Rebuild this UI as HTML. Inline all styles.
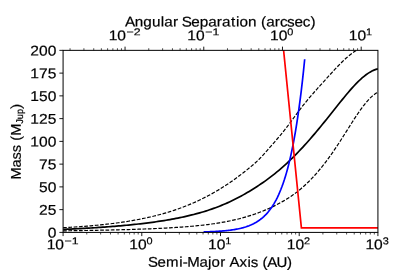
<!DOCTYPE html>
<html><head><meta charset="utf-8"><title>Mass vs Semi-Major Axis</title>
<style>
html,body{margin:0;padding:0;background:#fff;}
body{width:420px;height:280px;overflow:hidden;}
text{stroke:#000;stroke-width:0.2px;}
svg{display:block;will-change:transform;text-rendering:geometricPrecision;font-family:"Liberation Sans",sans-serif;fill:#000;}
</style></head><body>
<svg width="420" height="280" viewBox="0 0 420 280">
<defs><clipPath id="ax"><rect x="63.08" y="50.35" width="314.84" height="182.05"/></clipPath></defs>
<rect width="420" height="280" fill="#fff"/>
<g clip-path="url(#ax)">
<path d="M63.08,229.39 L65.06,229.31 L67.04,229.22 L69.02,229.13 L71.00,229.04 L72.98,228.94 L74.96,228.84 L76.94,228.74 L78.92,228.64 L80.90,228.54 L82.88,228.43 L84.86,228.32 L86.84,228.21 L88.82,228.09 L90.80,227.98 L92.78,227.85 L94.76,227.73 L96.74,227.60 L98.72,227.47 L100.70,227.34 L102.68,227.20 L104.66,227.06 L106.64,226.92 L108.62,226.77 L110.60,226.62 L112.58,226.46 L114.56,226.30 L116.54,226.14 L118.52,225.97 L120.50,225.80 L122.48,225.62 L124.46,225.44 L126.44,225.25 L128.42,225.06 L130.40,224.86 L132.38,224.66 L134.36,224.45 L136.34,224.24 L138.32,224.02 L140.30,223.80 L142.29,223.57 L144.27,223.33 L146.25,223.08 L148.23,222.83 L150.21,222.57 L152.19,222.31 L154.17,222.04 L156.15,221.75 L158.13,221.46 L160.11,221.17 L162.09,220.86 L164.07,220.54 L166.05,220.22 L168.03,219.88 L170.01,219.54 L171.99,219.18 L173.97,218.82 L175.95,218.44 L177.93,218.05 L179.91,217.65 L181.89,217.23 L183.87,216.81 L185.85,216.37 L187.83,215.91 L189.81,215.44 L191.79,214.95 L193.77,214.45 L195.75,213.94 L197.73,213.40 L199.71,212.85 L201.69,212.28 L203.67,211.69 L205.65,211.08 L207.63,210.44 L209.61,209.79 L211.59,209.12 L213.57,208.42 L215.55,207.70 L217.53,206.95 L219.51,206.18 L221.49,205.39 L223.47,204.57 L225.45,203.73 L227.43,202.85 L229.41,201.96 L231.39,201.03 L233.37,200.08 L235.35,199.09 L237.33,198.08 L239.31,197.04 L241.29,195.97 L243.27,194.87 L245.25,193.74 L247.23,192.58 L249.21,191.40 L251.19,190.19 L253.17,188.96 L255.15,187.71 L257.13,186.43 L259.11,185.14 L261.09,183.81 L263.07,182.46 L265.05,181.08 L267.03,179.65 L269.01,178.19 L270.99,176.69 L272.97,175.15 L274.95,173.57 L276.93,171.96 L278.91,170.30 L280.89,168.60 L282.87,166.86 L284.85,165.08 L286.83,163.27 L288.81,161.41 L290.79,159.51 L292.77,157.57 L294.75,155.60 L296.73,153.58 L298.71,151.53 L300.70,149.44 L302.68,147.32 L304.66,145.15 L306.64,142.96 L308.62,140.73 L310.60,138.47 L312.58,136.18 L314.56,133.86 L316.54,131.52 L318.52,129.14 L320.50,126.75 L322.48,124.33 L324.46,121.90 L326.44,119.45 L328.42,116.98 L330.40,114.51 L332.38,112.02 L334.36,109.54 L336.34,107.05 L338.32,104.56 L340.30,102.08 L342.28,99.63 L344.26,97.20 L346.24,94.80 L348.22,92.45 L350.20,90.15 L352.18,87.91 L354.16,85.74 L356.14,83.65 L358.12,81.65 L360.10,79.76 L362.08,77.97 L364.06,76.30 L366.04,74.77 L368.02,73.38 L370.00,72.14 L371.98,71.06 L373.96,70.15 L375.94,69.42 L377.92,68.87" fill="none" stroke="#000" stroke-width="1.7" stroke-linejoin="miter"/>
<path d="M63.08,227.72 L65.06,227.61 L67.04,227.50 L69.02,227.38 L71.00,227.26 L72.98,227.14 L74.96,227.01 L76.94,226.87 L78.92,226.73 L80.90,226.59 L82.88,226.44 L84.86,226.29 L86.84,226.13 L88.82,225.97 L90.80,225.80 L92.78,225.62 L94.76,225.44 L96.74,225.25 L98.72,225.06 L100.70,224.86 L102.68,224.65 L104.66,224.43 L106.64,224.21 L108.62,223.98 L110.60,223.75 L112.58,223.50 L114.56,223.25 L116.54,222.99 L118.52,222.72 L120.50,222.44 L122.48,222.15 L124.46,221.85 L126.44,221.54 L128.42,221.22 L130.40,220.90 L132.38,220.56 L134.36,220.21 L136.34,219.85 L138.32,219.47 L140.30,219.09 L142.29,218.69 L144.27,218.28 L146.25,217.86 L148.23,217.42 L150.21,216.97 L152.19,216.50 L154.17,216.02 L156.15,215.53 L158.13,215.02 L160.11,214.49 L162.09,213.95 L164.07,213.39 L166.05,212.82 L168.03,212.22 L170.01,211.61 L171.99,210.98 L173.97,210.33 L175.95,209.67 L177.93,208.98 L179.91,208.27 L181.89,207.55 L183.87,206.80 L185.85,206.03 L187.83,205.24 L189.81,204.42 L191.79,203.59 L193.77,202.73 L195.75,201.85 L197.73,200.94 L199.71,200.01 L201.69,199.05 L203.67,198.07 L205.65,197.07 L207.63,196.04 L209.61,194.98 L211.59,193.90 L213.57,192.79 L215.55,191.65 L217.53,190.48 L219.51,189.29 L221.49,188.07 L223.47,186.82 L225.45,185.54 L227.43,184.24 L229.41,182.90 L231.39,181.54 L233.37,180.15 L235.35,178.73 L237.33,177.28 L239.31,175.80 L241.29,174.30 L243.27,172.77 L245.25,171.21 L247.23,169.62 L249.21,168.01 L251.19,166.37 L253.17,164.69 L255.15,162.95 L257.13,161.14 L259.11,159.22 L261.09,157.19 L263.07,155.06 L265.05,152.87 L267.03,150.62 L269.01,148.35 L270.99,146.08 L272.97,143.81 L274.95,141.54 L276.93,139.26 L278.91,136.95 L280.89,134.60 L282.87,132.19 L284.85,129.71 L286.83,127.16 L288.81,124.55 L290.79,121.89 L292.77,119.21 L294.75,116.51 L296.73,113.82 L298.71,111.15 L300.70,108.54 L302.68,105.98 L304.66,103.48 L306.64,101.04 L308.62,98.65 L310.60,96.31 L312.58,94.02 L314.56,91.76 L316.54,89.53 L318.52,87.32 L320.50,85.14 L322.48,82.96 L324.46,80.78 L326.44,78.60 L328.42,76.41 L330.40,74.23 L332.38,72.06 L334.36,69.92 L336.34,67.81 L338.32,65.74 L340.30,63.72 L342.28,61.76 L344.26,59.87 L346.24,58.06 L348.22,56.34 L350.20,54.73 L352.18,53.22 L354.16,51.84 L356.14,50.59 L358.12,49.49 L360.10,48.54 L362.08,47.76 L364.06,47.15 L366.04,46.73 L368.02,46.51 L370.00,46.48 L371.98,46.67 L373.96,47.08 L375.94,47.72 L377.92,48.58" fill="none" stroke="#000" stroke-width="1.2" stroke-dasharray="3.7,1.6" stroke-linejoin="miter"/>
<path d="M63.08,230.86 L65.06,230.83 L67.04,230.80 L69.02,230.77 L71.00,230.74 L72.98,230.71 L74.96,230.68 L76.94,230.65 L78.92,230.61 L80.90,230.58 L82.88,230.55 L84.86,230.51 L86.84,230.48 L88.82,230.44 L90.80,230.41 L92.78,230.37 L94.76,230.33 L96.74,230.29 L98.72,230.25 L100.70,230.21 L102.68,230.17 L104.66,230.13 L106.64,230.09 L108.62,230.04 L110.60,230.00 L112.58,229.95 L114.56,229.90 L116.54,229.86 L118.52,229.81 L120.50,229.75 L122.48,229.70 L124.46,229.65 L126.44,229.59 L128.42,229.53 L130.40,229.48 L132.38,229.41 L134.36,229.35 L136.34,229.29 L138.32,229.22 L140.30,229.15 L142.29,229.08 L144.27,229.01 L146.25,228.94 L148.23,228.86 L150.21,228.78 L152.19,228.70 L154.17,228.61 L156.15,228.52 L158.13,228.43 L160.11,228.34 L162.09,228.24 L164.07,228.14 L166.05,228.03 L168.03,227.92 L170.01,227.81 L171.99,227.69 L173.97,227.57 L175.95,227.45 L177.93,227.32 L179.91,227.18 L181.89,227.04 L183.87,226.89 L185.85,226.74 L187.83,226.58 L189.81,226.41 L191.79,226.24 L193.77,226.06 L195.75,225.87 L197.73,225.67 L199.71,225.46 L201.69,225.25 L203.67,225.03 L205.65,224.79 L207.63,224.55 L209.61,224.29 L211.59,224.02 L213.57,223.74 L215.55,223.45 L217.53,223.14 L219.51,222.82 L221.49,222.49 L223.47,222.14 L225.45,221.77 L227.43,221.39 L229.41,220.99 L231.39,220.57 L233.37,220.14 L235.35,219.68 L237.33,219.21 L239.31,218.72 L241.29,218.20 L243.27,217.67 L245.25,217.11 L247.23,216.53 L249.21,215.93 L251.19,215.30 L253.17,214.64 L255.15,213.97 L257.13,213.26 L259.11,212.53 L261.09,211.77 L263.07,210.98 L265.05,210.16 L267.03,209.32 L269.01,208.44 L270.99,207.53 L272.97,206.60 L274.95,205.62 L276.93,204.62 L278.91,203.57 L280.89,202.49 L282.87,201.36 L284.85,200.20 L286.83,198.98 L288.81,197.72 L290.79,196.40 L292.77,195.03 L294.75,193.61 L296.73,192.12 L298.71,190.56 L300.70,188.93 L302.68,187.24 L304.66,185.47 L306.64,183.63 L308.62,181.71 L310.60,179.72 L312.58,177.65 L314.56,175.50 L316.54,173.28 L318.52,170.98 L320.50,168.60 L322.48,166.15 L324.46,163.62 L326.44,161.02 L328.42,158.34 L330.40,155.60 L332.38,152.79 L334.36,149.92 L336.34,146.98 L338.32,144.00 L340.30,140.96 L342.28,137.88 L344.26,134.77 L346.24,131.64 L348.22,128.50 L350.20,125.37 L352.18,122.26 L354.16,119.18 L356.14,116.16 L358.12,113.22 L360.10,110.37 L362.08,107.63 L364.06,105.02 L366.04,102.57 L368.02,100.29 L370.00,98.20 L371.98,96.33 L373.96,94.69 L375.94,93.31 L377.92,92.20" fill="none" stroke="#000" stroke-width="1.2" stroke-dasharray="3.7,1.6" stroke-linejoin="miter"/>
<path d="M203.60,231.93 L204.74,231.90 L205.88,231.87 L207.01,231.83 L208.15,231.79 L209.28,231.75 L210.42,231.70 L211.55,231.66 L212.69,231.60 L213.83,231.55 L214.96,231.49 L216.10,231.43 L217.23,231.36 L218.37,231.29 L219.51,231.21 L220.64,231.13 L221.78,231.05 L222.91,230.95 L224.05,230.85 L225.18,230.75 L226.32,230.63 L227.46,230.51 L228.59,230.38 L229.73,230.24 L230.86,230.10 L232.00,229.94 L233.14,229.77 L234.27,229.59 L235.41,229.40 L236.54,229.19 L237.68,228.97 L238.81,228.73 L239.95,228.48 L241.09,228.21 L242.22,227.92 L243.36,227.62 L244.49,227.29 L245.63,226.94 L246.77,226.56 L247.90,226.16 L249.04,225.73 L250.17,225.27 L251.31,224.78 L252.44,224.26 L253.58,223.70 L254.72,223.10 L255.85,222.46 L256.99,221.78 L258.12,221.05 L259.26,220.27 L260.40,219.43 L261.53,218.54 L262.67,217.59 L263.80,216.57 L264.94,215.49 L266.07,214.32 L267.21,213.08 L268.35,211.76 L269.48,210.34 L270.62,208.82 L271.75,207.20 L272.89,205.47 L274.03,203.62 L275.16,201.64 L276.30,199.53 L277.43,197.27 L278.57,194.85 L279.70,192.27 L280.84,189.52 L281.98,186.57 L283.11,183.42 L284.25,180.06 L285.38,176.46 L286.52,172.62 L287.66,168.51 L288.79,164.12 L289.93,159.42 L291.06,154.41 L292.20,149.05 L293.34,143.32 L294.47,137.20 L295.61,130.66 L296.74,123.67 L297.88,116.20 L299.01,108.22 L300.15,99.68 L301.29,90.56 L302.42,80.82 L303.56,70.40 L304.69,59.27" fill="none" stroke="#0000ff" stroke-width="1.7" stroke-linejoin="miter"/>
<path d="M280.59,20.30 L301.40,227.90 L380.00,227.90" fill="none" stroke="#ff0000" stroke-width="1.7" stroke-linejoin="miter"/>
</g>
<rect x="63.08" y="50.35" width="314.84" height="182.05" fill="none" stroke="#000" stroke-width="1.0"/>
<line x1="63.08" y1="232.40" x2="63.08" y2="236.10" stroke="#000" stroke-width="0.9"/>
<line x1="86.77" y1="232.40" x2="86.77" y2="234.50" stroke="#000" stroke-width="0.7"/>
<line x1="100.63" y1="232.40" x2="100.63" y2="234.50" stroke="#000" stroke-width="0.7"/>
<line x1="110.47" y1="232.40" x2="110.47" y2="234.50" stroke="#000" stroke-width="0.7"/>
<line x1="118.10" y1="232.40" x2="118.10" y2="234.50" stroke="#000" stroke-width="0.7"/>
<line x1="124.33" y1="232.40" x2="124.33" y2="234.50" stroke="#000" stroke-width="0.7"/>
<line x1="129.60" y1="232.40" x2="129.60" y2="234.50" stroke="#000" stroke-width="0.7"/>
<line x1="134.16" y1="232.40" x2="134.16" y2="234.50" stroke="#000" stroke-width="0.7"/>
<line x1="138.19" y1="232.40" x2="138.19" y2="234.50" stroke="#000" stroke-width="0.7"/>
<line x1="141.79" y1="232.40" x2="141.79" y2="236.10" stroke="#000" stroke-width="0.9"/>
<line x1="165.48" y1="232.40" x2="165.48" y2="234.50" stroke="#000" stroke-width="0.7"/>
<line x1="179.34" y1="232.40" x2="179.34" y2="234.50" stroke="#000" stroke-width="0.7"/>
<line x1="189.18" y1="232.40" x2="189.18" y2="234.50" stroke="#000" stroke-width="0.7"/>
<line x1="196.81" y1="232.40" x2="196.81" y2="234.50" stroke="#000" stroke-width="0.7"/>
<line x1="203.04" y1="232.40" x2="203.04" y2="234.50" stroke="#000" stroke-width="0.7"/>
<line x1="208.31" y1="232.40" x2="208.31" y2="234.50" stroke="#000" stroke-width="0.7"/>
<line x1="212.87" y1="232.40" x2="212.87" y2="234.50" stroke="#000" stroke-width="0.7"/>
<line x1="216.90" y1="232.40" x2="216.90" y2="234.50" stroke="#000" stroke-width="0.7"/>
<line x1="220.50" y1="232.40" x2="220.50" y2="236.10" stroke="#000" stroke-width="0.9"/>
<line x1="244.19" y1="232.40" x2="244.19" y2="234.50" stroke="#000" stroke-width="0.7"/>
<line x1="258.05" y1="232.40" x2="258.05" y2="234.50" stroke="#000" stroke-width="0.7"/>
<line x1="267.89" y1="232.40" x2="267.89" y2="234.50" stroke="#000" stroke-width="0.7"/>
<line x1="275.52" y1="232.40" x2="275.52" y2="234.50" stroke="#000" stroke-width="0.7"/>
<line x1="281.75" y1="232.40" x2="281.75" y2="234.50" stroke="#000" stroke-width="0.7"/>
<line x1="287.02" y1="232.40" x2="287.02" y2="234.50" stroke="#000" stroke-width="0.7"/>
<line x1="291.58" y1="232.40" x2="291.58" y2="234.50" stroke="#000" stroke-width="0.7"/>
<line x1="295.61" y1="232.40" x2="295.61" y2="234.50" stroke="#000" stroke-width="0.7"/>
<line x1="299.21" y1="232.40" x2="299.21" y2="236.10" stroke="#000" stroke-width="0.9"/>
<line x1="322.90" y1="232.40" x2="322.90" y2="234.50" stroke="#000" stroke-width="0.7"/>
<line x1="336.76" y1="232.40" x2="336.76" y2="234.50" stroke="#000" stroke-width="0.7"/>
<line x1="346.60" y1="232.40" x2="346.60" y2="234.50" stroke="#000" stroke-width="0.7"/>
<line x1="354.23" y1="232.40" x2="354.23" y2="234.50" stroke="#000" stroke-width="0.7"/>
<line x1="360.46" y1="232.40" x2="360.46" y2="234.50" stroke="#000" stroke-width="0.7"/>
<line x1="365.73" y1="232.40" x2="365.73" y2="234.50" stroke="#000" stroke-width="0.7"/>
<line x1="370.29" y1="232.40" x2="370.29" y2="234.50" stroke="#000" stroke-width="0.7"/>
<line x1="374.32" y1="232.40" x2="374.32" y2="234.50" stroke="#000" stroke-width="0.7"/>
<line x1="377.92" y1="232.40" x2="377.92" y2="236.10" stroke="#000" stroke-width="0.9"/>
<line x1="70.05" y1="50.35" x2="70.05" y2="48.25" stroke="#000" stroke-width="0.7"/>
<line x1="83.91" y1="50.35" x2="83.91" y2="48.25" stroke="#000" stroke-width="0.7"/>
<line x1="93.74" y1="50.35" x2="93.74" y2="48.25" stroke="#000" stroke-width="0.7"/>
<line x1="101.37" y1="50.35" x2="101.37" y2="48.25" stroke="#000" stroke-width="0.7"/>
<line x1="107.60" y1="50.35" x2="107.60" y2="48.25" stroke="#000" stroke-width="0.7"/>
<line x1="112.87" y1="50.35" x2="112.87" y2="48.25" stroke="#000" stroke-width="0.7"/>
<line x1="117.43" y1="50.35" x2="117.43" y2="48.25" stroke="#000" stroke-width="0.7"/>
<line x1="121.46" y1="50.35" x2="121.46" y2="48.25" stroke="#000" stroke-width="0.7"/>
<line x1="125.06" y1="50.35" x2="125.06" y2="46.65" stroke="#000" stroke-width="0.9"/>
<line x1="148.76" y1="50.35" x2="148.76" y2="48.25" stroke="#000" stroke-width="0.7"/>
<line x1="162.62" y1="50.35" x2="162.62" y2="48.25" stroke="#000" stroke-width="0.7"/>
<line x1="172.45" y1="50.35" x2="172.45" y2="48.25" stroke="#000" stroke-width="0.7"/>
<line x1="180.08" y1="50.35" x2="180.08" y2="48.25" stroke="#000" stroke-width="0.7"/>
<line x1="186.31" y1="50.35" x2="186.31" y2="48.25" stroke="#000" stroke-width="0.7"/>
<line x1="191.58" y1="50.35" x2="191.58" y2="48.25" stroke="#000" stroke-width="0.7"/>
<line x1="196.14" y1="50.35" x2="196.14" y2="48.25" stroke="#000" stroke-width="0.7"/>
<line x1="200.17" y1="50.35" x2="200.17" y2="48.25" stroke="#000" stroke-width="0.7"/>
<line x1="203.77" y1="50.35" x2="203.77" y2="46.65" stroke="#000" stroke-width="0.9"/>
<line x1="227.47" y1="50.35" x2="227.47" y2="48.25" stroke="#000" stroke-width="0.7"/>
<line x1="241.33" y1="50.35" x2="241.33" y2="48.25" stroke="#000" stroke-width="0.7"/>
<line x1="251.16" y1="50.35" x2="251.16" y2="48.25" stroke="#000" stroke-width="0.7"/>
<line x1="258.79" y1="50.35" x2="258.79" y2="48.25" stroke="#000" stroke-width="0.7"/>
<line x1="265.02" y1="50.35" x2="265.02" y2="48.25" stroke="#000" stroke-width="0.7"/>
<line x1="270.29" y1="50.35" x2="270.29" y2="48.25" stroke="#000" stroke-width="0.7"/>
<line x1="274.85" y1="50.35" x2="274.85" y2="48.25" stroke="#000" stroke-width="0.7"/>
<line x1="278.88" y1="50.35" x2="278.88" y2="48.25" stroke="#000" stroke-width="0.7"/>
<line x1="282.48" y1="50.35" x2="282.48" y2="46.65" stroke="#000" stroke-width="0.9"/>
<line x1="306.18" y1="50.35" x2="306.18" y2="48.25" stroke="#000" stroke-width="0.7"/>
<line x1="320.04" y1="50.35" x2="320.04" y2="48.25" stroke="#000" stroke-width="0.7"/>
<line x1="329.87" y1="50.35" x2="329.87" y2="48.25" stroke="#000" stroke-width="0.7"/>
<line x1="337.50" y1="50.35" x2="337.50" y2="48.25" stroke="#000" stroke-width="0.7"/>
<line x1="343.73" y1="50.35" x2="343.73" y2="48.25" stroke="#000" stroke-width="0.7"/>
<line x1="349.00" y1="50.35" x2="349.00" y2="48.25" stroke="#000" stroke-width="0.7"/>
<line x1="353.56" y1="50.35" x2="353.56" y2="48.25" stroke="#000" stroke-width="0.7"/>
<line x1="357.59" y1="50.35" x2="357.59" y2="48.25" stroke="#000" stroke-width="0.7"/>
<line x1="361.19" y1="50.35" x2="361.19" y2="46.65" stroke="#000" stroke-width="0.9"/>
<line x1="63.08" y1="232.40" x2="59.38" y2="232.40" stroke="#000" stroke-width="0.9"/>
<text transform="translate(47.68,237.52) scale(1.1042,1) rotate(0.03)" x="0.00" y="0" font-size="14.10">0</text>
<line x1="63.08" y1="209.64" x2="59.38" y2="209.64" stroke="#000" stroke-width="0.9"/>
<text transform="translate(39.02,214.76) scale(1.1042,1) rotate(0.03)" x="0.00 7.84" y="0" font-size="14.10">25</text>
<line x1="63.08" y1="186.89" x2="59.38" y2="186.89" stroke="#000" stroke-width="0.9"/>
<text transform="translate(39.02,192.01) scale(1.1042,1) rotate(0.03)" x="0.00 7.84" y="0" font-size="14.10">50</text>
<line x1="63.08" y1="164.13" x2="59.38" y2="164.13" stroke="#000" stroke-width="0.9"/>
<text transform="translate(39.02,169.25) scale(1.1042,1) rotate(0.03)" x="0.00 7.84" y="0" font-size="14.10">75</text>
<line x1="63.08" y1="141.38" x2="59.38" y2="141.38" stroke="#000" stroke-width="0.9"/>
<text transform="translate(30.36,146.50) scale(1.1042,1) rotate(0.03)" x="-0.00 7.84 15.68" y="0" font-size="14.10">100</text>
<line x1="63.08" y1="118.62" x2="59.38" y2="118.62" stroke="#000" stroke-width="0.9"/>
<text transform="translate(30.36,123.74) scale(1.1042,1) rotate(0.03)" x="-0.00 7.84 15.68" y="0" font-size="14.10">125</text>
<line x1="63.08" y1="95.86" x2="59.38" y2="95.86" stroke="#000" stroke-width="0.9"/>
<text transform="translate(30.36,100.98) scale(1.1042,1) rotate(0.03)" x="-0.00 7.84 15.68" y="0" font-size="14.10">150</text>
<line x1="63.08" y1="73.11" x2="59.38" y2="73.11" stroke="#000" stroke-width="0.9"/>
<text transform="translate(30.36,78.23) scale(1.1042,1) rotate(0.03)" x="-0.00 7.84 15.68" y="0" font-size="14.10">175</text>
<line x1="63.08" y1="50.35" x2="59.38" y2="50.35" stroke="#000" stroke-width="0.9"/>
<text transform="translate(30.36,55.47) scale(1.1042,1) rotate(0.03)" x="-0.00 7.84 15.68" y="0" font-size="14.10">200</text>
<text transform="translate(46.65,249.30) scale(1.1042,1) rotate(0.03)" x="0.00 7.84" y="0" font-size="14.10">10</text>
<text transform="translate(64.12,244.25) scale(1.2480,1) rotate(0.03)" x="0.32 6.08" y="0" font-size="9.87">−1</text>
<text transform="translate(129.35,249.30) scale(1.1042,1) rotate(0.03)" x="0.00 7.84" y="0" font-size="14.10">10</text>
<text transform="translate(146.62,244.25) scale(1.1042,1) rotate(0.03)" x="0.00" y="0" font-size="9.87">0</text>
<text transform="translate(208.06,249.30) scale(1.1042,1) rotate(0.03)" x="0.00 7.84" y="0" font-size="14.10">10</text>
<text transform="translate(225.33,244.25) scale(1.1042,1) rotate(0.03)" x="0.00" y="0" font-size="9.87">1</text>
<text transform="translate(286.77,249.30) scale(1.1042,1) rotate(0.03)" x="0.00 7.84" y="0" font-size="14.10">10</text>
<text transform="translate(304.04,244.25) scale(1.1042,1) rotate(0.03)" x="0.00" y="0" font-size="9.87">2</text>
<text transform="translate(365.48,249.30) scale(1.1042,1) rotate(0.03)" x="0.00 7.84" y="0" font-size="14.10">10</text>
<text transform="translate(382.75,244.25) scale(1.1042,1) rotate(0.03)" x="0.00" y="0" font-size="9.87">3</text>
<text transform="translate(108.63,40.20) scale(1.1042,1) rotate(0.03)" x="0.00 7.84" y="0" font-size="14.10">10</text>
<text transform="translate(126.10,35.30) scale(1.2480,1) rotate(0.03)" x="0.32 6.08" y="0" font-size="9.87">−2</text>
<text transform="translate(187.34,40.20) scale(1.1042,1) rotate(0.03)" x="0.00 7.84" y="0" font-size="14.10">10</text>
<text transform="translate(204.81,35.30) scale(1.2480,1) rotate(0.03)" x="0.32 6.08" y="0" font-size="9.87">−1</text>
<text transform="translate(270.04,40.20) scale(1.1042,1) rotate(0.03)" x="0.00 7.84" y="0" font-size="14.10">10</text>
<text transform="translate(287.31,35.30) scale(1.1042,1) rotate(0.03)" x="0.00" y="0" font-size="9.87">0</text>
<text transform="translate(348.75,40.20) scale(1.1042,1) rotate(0.03)" x="0.00 7.84" y="0" font-size="14.10">10</text>
<text transform="translate(366.02,35.30) scale(1.1042,1) rotate(0.03)" x="0.00" y="0" font-size="9.87">1</text>
<text transform="translate(148.74,266.83) scale(1.0652,1) rotate(0.03)" x="-0.65 8.12 16.32 28.63 31.93 36.22 47.60 55.64 58.97 67.08 72.13 75.78 85.11 92.63 95.77 102.70 106.83 111.34 120.00 129.91" y="0" font-size="14.10">Semi-Major Axis (AU)</text>
<text transform="translate(125.37,26.50) scale(1.0837,1) rotate(0.03)" x="-0.41 8.65 16.62 24.58 32.66 35.90 43.90 48.87 52.11 60.74 68.58 76.42 84.42 89.28 97.55 102.15 105.38 113.20 121.14 125.20 129.92 137.92 142.78 149.23 155.97 163.68 170.76" y="0" font-size="14.10">Angular Separation (arcsec)</text>
<g transform="translate(20.80,179.45) rotate(-90)">
<text transform="translate(0.00,0.00) scale(1.0296,1) rotate(0.03)" x="-0.17 11.53 19.42 26.31 33.42 37.71 42.47" y="0" font-size="14.10">Mass (M</text>
<text transform="translate(55.64,2.20) scale(0.9360,1) rotate(0.03)" x="0.00 4.93 10.42" y="0" font-size="9.87">Jup</text>
<text transform="translate(70.54,0.00) scale(1.1308,1) rotate(0.03)" x="0.00" y="0" font-size="14.10">)</text>
</g>
</svg>
</body></html>
